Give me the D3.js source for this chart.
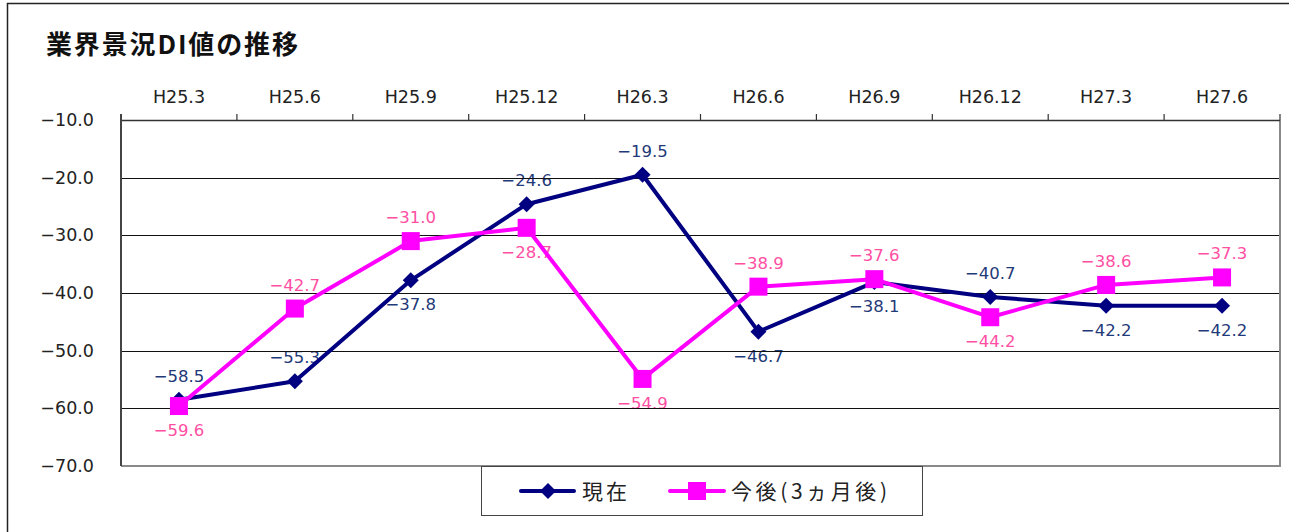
<!DOCTYPE html>
<html><head><meta charset="utf-8">
<script src="https://cdn.jsdelivr.net/npm/d3@7/dist/d3.min.js"></script>
<style>
html,body{margin:0;padding:0;background:#fff;}
svg{display:block;}
</style></head>
<body>
<svg id="chart" width="1289" height="532"></svg>
<script>
const categories = ["H25.3","H25.6","H25.9","H25.12","H26.3","H26.6","H26.9","H26.12","H27.3","H27.6"];
const current = [-58.5,-55.3,-37.8,-24.6,-19.5,-46.7,-38.1,-40.7,-42.2,-42.2];
const future  = [-59.6,-42.7,-31.0,-28.7,-54.9,-38.9,-37.6,-44.2,-38.6,-37.3];
// label placement: 1 = above, -1 = below
const currentLabelPos = [1,1,-1,1,1,-1,-1,1,-1,-1];
const futureLabelPos  = [-1,1,1,-1,-1,1,1,-1,1,1];
const yTicks = [-10,-20,-30,-40,-50,-60,-70];
const seriesNames = ["現在","今後(3ヵ月後)"];
const title = "業界景況DI値の推移";

const JP = "\"Noto Sans CJK JP\",sans-serif";
const NUM = "\"DejaVu Sans\",sans-serif";

const svg = d3.select("#chart");
const L = 121, R = 1280, T = 120, B = 466;
const x = d3.scaleBand().domain(categories).range([L, R]);
const y = d3.scaleLinear().domain([-70, -10]).range([B, T]);
const cx = d => x(d) + x.bandwidth()/2;
const fmt = v => (v < 0 ? "\u2212" : "") + Math.abs(v).toFixed(1);

// outer frame (left & top edges)
svg.append("path").attr("d", `M7.5,532 L7.5,3.5 L1289,3.5`).attr("fill","none").attr("stroke","#222").attr("stroke-width",1.5);

// title
svg.append("text").attr("x", 46).attr("y", 54).text(title)
  .style("font-family", JP).style("font-size", "26px").style("font-weight", "600").attr("fill", "#111")
  .attr("textLength", 252).attr("lengthAdjust", "spacing");

// data labels (drawn below gridlines as in reference)
const labelG = svg.append("g");
function addLabels(vals, pos, color) {
  labelG.selectAll(null).data(vals).enter().append("text")
    .attr("x", (d,i) => cx(categories[i]))
    .attr("y", (d,i) => y(d) + (pos[i] > 0 ? -24 : 24))
    .attr("dy", "0.36em")
    .attr("text-anchor", "middle")
    .style("font-family", NUM).style("font-size", "16.5px")
    .attr("fill", color)
    .text(d => fmt(d));
}
addLabels(current, currentLabelPos, "#1f3a78");
addLabels(future, futureLabelPos, "#ff4fa3");

// gridlines
svg.append("g").selectAll("line").data(yTicks.filter(t => t > -70 && t < -10)).enter().append("line")
  .attr("x1", L).attr("x2", R).attr("y1", d => Math.round(y(d))+0.5).attr("y2", d => Math.round(y(d))+0.5)
  .attr("stroke", "#111").attr("stroke-width", 1);

// plot frame right & bottom (gray)
svg.append("path").attr("d", `M${L},${B} L${R},${B} L${R},${T}`).attr("fill","none").attr("stroke","#8a8a8a").attr("stroke-width",2);

// top axis
const topAxis = d3.axisTop(x).tickSize(0).tickPadding(0);
const ta = svg.append("g").attr("transform", `translate(0,${T})`).call(topAxis);
ta.select(".domain").remove();
ta.selectAll("text").attr("y", -17).style("font-size", "17.5px").attr("fill", "#222").style("font-family", NUM);
svg.append("line").attr("x1", L).attr("x2", R).attr("y1", T+0.5).attr("y2", T+0.5).attr("stroke", "#333").attr("stroke-width", 1.5);
const bounds = categories.map(c => x(c)).concat([R]);
svg.append("g").selectAll("line").data(bounds).enter().append("line")
  .attr("x1", d => d).attr("x2", d => d).attr("y1", T-6).attr("y2", T)
  .attr("stroke", "#333").attr("stroke-width", 1.2);

// left axis
const leftAxis = d3.axisLeft(y).tickValues(yTicks).tickSize(0).tickPadding(27).tickFormat(d => fmt(d));
const la = svg.append("g").attr("transform", `translate(${L},0)`).call(leftAxis);
la.select(".domain").remove();
la.selectAll("text").style("font-size", "17.5px").attr("fill", "#222").style("font-family", NUM);
svg.append("line").attr("x1", L).attr("x2", L).attr("y1", T-6).attr("y2", B).attr("stroke", "#444").attr("stroke-width", 2);

// lines
const line = d3.line().x((d,i) => cx(categories[i])).y(d => y(d));
svg.append("path").datum(current).attr("d", line).attr("fill","none").attr("stroke","#000080").attr("stroke-width",4).attr("stroke-linejoin","round");
svg.append("path").datum(future).attr("d", line).attr("fill","none").attr("stroke","#ff00ff").attr("stroke-width",4).attr("stroke-linejoin","round");

// markers
const diamond = (px, py, r) => `M${px},${py-r} L${px+r},${py} L${px},${py+r} L${px-r},${py} Z`;
svg.append("g").selectAll("path").data(current).enter().append("path")
  .attr("d", (d,i) => diamond(cx(categories[i]), y(d), 8)).attr("fill", "#000080");
svg.append("g").selectAll("rect").data(future).enter().append("rect")
  .attr("x", (d,i) => cx(categories[i]) - 9).attr("y", d => y(d) - 9)
  .attr("width", 18).attr("height", 18).attr("fill", "#ff00ff");

// legend
const lg = svg.append("g");
lg.append("rect").attr("x", 481.5).attr("y", 466.5).attr("width", 441).attr("height", 49)
  .attr("fill", "#fff").attr("stroke", "#444").attr("stroke-width", 1);
const ly = 491;
lg.append("line").attr("x1", 521).attr("x2", 574).attr("y1", ly).attr("y2", ly).attr("stroke", "#000080").attr("stroke-width", 4).attr("stroke-linecap","round");
lg.append("path").attr("d", diamond(548, ly, 8)).attr("fill", "#000080");
lg.append("text").attr("x", 582).attr("y", ly).attr("dy", "0.36em").style("font-size", "21px").style("font-family", JP).attr("fill", "#222")
  .attr("textLength", 45).attr("lengthAdjust", "spacing").text(seriesNames[0]);
lg.append("line").attr("x1", 670).attr("x2", 724).attr("y1", ly).attr("y2", ly).attr("stroke", "#ff00ff").attr("stroke-width", 4).attr("stroke-linecap","round");
lg.append("rect").attr("x", 688).attr("y", ly-9).attr("width", 18).attr("height", 18).attr("fill", "#ff00ff");
lg.append("text").attr("x", 731).attr("y", ly).attr("dy", "0.36em").style("font-size", "21px").style("font-family", JP).attr("fill", "#222")
  .attr("textLength", 156).attr("lengthAdjust", "spacing").text(seriesNames[1]);
</script>
</body></html>
